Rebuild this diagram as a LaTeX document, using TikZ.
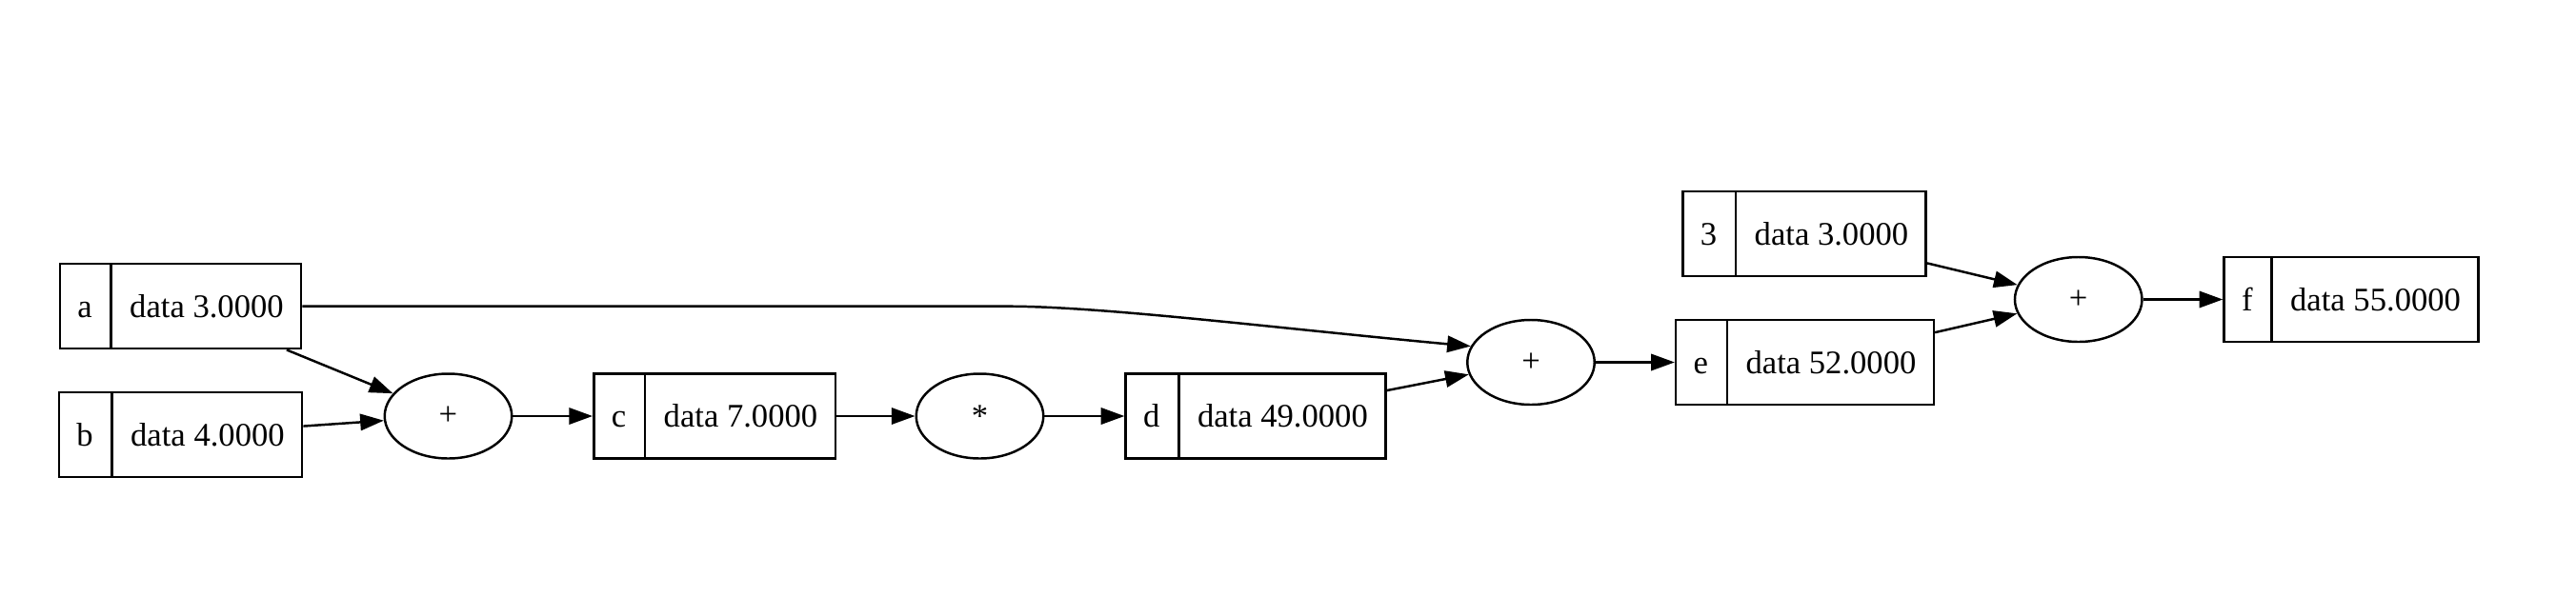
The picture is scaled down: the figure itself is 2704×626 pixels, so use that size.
\documentclass[tikz,border=0pt]{standalone}
\usepackage{fontspec}
\setmainfont{Liberation Serif}
\usetikzlibrary{shapes,shapes.geometric,shapes.multipart,arrows.meta}
\tikzstyle{record} = [rectangle split, rectangle split horizontal, rectangle split parts=2,
  rectangle split part align=base, draw, line width=1pt, minimum height=36pt,
  inner xsep=7.5pt, inner ysep=0pt, font=\fontsize{14}{16}\selectfont]
\tikzstyle{op} = [draw, ellipse, line width=1pt, minimum width=54pt, minimum height=36pt,
  inner sep=0pt, font=\fontsize{14}{16}\selectfont]
\tikzstyle{line} = [draw, line width=1pt, -{Triangle[length=10pt,width=7pt]}]

\begin{document}
\begin{tikzpicture}[x=0.4045pt, y=-0.4045pt]
  \useasboundingbox (0,0) rectangle (2704,626);
  \def\yrow{437}
  \node [record] (a) at (189.5,321.7) {a\nodepart{two}data 3.0000};
  \node [record] (b) at (189.5,456.5) {b\nodepart{two}data 4.0000};
  \node [op] (cop) at (470.5,\yrow) {+};
  \path [line] (a) -- (cop);
  \path [line] (b) -- (cop);

  \node [record] (c) at (750,\yrow) {c\nodepart{two}data 7.0000};
  \path [line] (cop) -- (c);
  \node [op] (dop) at (1028.5,\yrow) {*};
  \path [line] (c) -- (dop);
  \node [record] (d) at (1318,\yrow) {d\nodepart{two}data 49.0000};
  \path [line] (dop) -- (d);

  \node [op] (eop) at (1607,380.5) {+};
  \path [line] (a.east) -- ++(740,0) .. controls +(100,0) and (1343,345) .. (eop.165);
  \path [line] (d) -- (eop);
  \node [record] (e) at (1894.5,380.5) {e\nodepart{two}data 52.0000};
  \path [line] (eop) -- (e);

  \node [record] (k) at (1894,245.5) {3\nodepart{two}data 3.0000};
  \node [op] (fop) at (2181.7,314.5) {+};
  \path [line] (k) -- (fop);
  \path [line] (e) -- (fop);
  \node [record] (f) at (2468,314.5) {f\nodepart{two}data 55.0000};
  \path [line] (fop) -- (f);
\end{tikzpicture}
\end{document}
